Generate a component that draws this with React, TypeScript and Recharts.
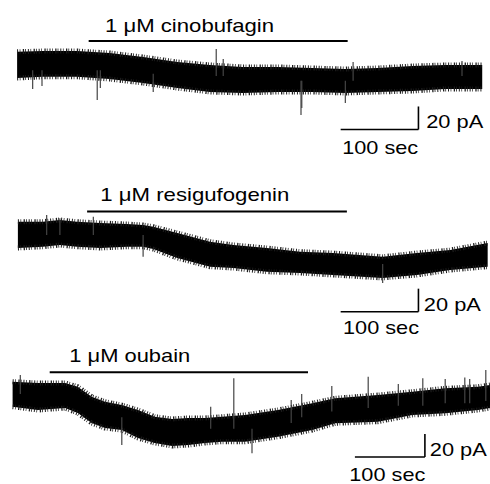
import React from 'react';
import { ComposedChart, Area, XAxis, YAxis, ReferenceLine, Scatter } from 'recharts';

// time in sec, current in pA (each trace relative to its own starting level)
const P1_BAND = [
  { t: 2, hi: 11.1, lo: -11.7 }, { t: 35, hi: 11.7, lo: -10.6 }, { t: 79, hi: 11.7, lo: -10.6 },
  { t: 121, hi: 10.0, lo: -12.6 }, { t: 164, hi: 6.5, lo: -16.0 }, { t: 208, hi: 2.2, lo: -20.4 },
  { t: 250, hi: -0.4, lo: -23.8 }, { t: 292, hi: -2.1, lo: -24.7 }, { t: 337, hi: -2.1, lo: -23.8 },
  { t: 381, hi: -3.0, lo: -23.8 }, { t: 424, hi: -3.9, lo: -24.7 }, { t: 466, hi: -3.0, lo: -23.8 },
  { t: 510, hi: -1.3, lo: -23.0 }, { t: 552, hi: -0.4, lo: -21.2 }, { t: 600, hi: -0.4, lo: -21.2 },
];
const P1_SPIKES = [
  { t: 22, base: -5, tip: -21.2 }, { t: 34, base: -5, tip: -18.6 }, { t: 105, base: -5, tip: -30.8 },
  { t: 109, base: -5, tip: -20.4 }, { t: 177, base: -8, tip: -23.8 }, { t: 367, base: -14, tip: -43.8 },
  { t: 368, base: -14, tip: -37.7 }, { t: 424, base: -14, tip: -33.4 },
  { t: 258, base: -10, tip: 13.5 }, { t: 267, base: -10, tip: 4.8 }, { t: 434, base: -14, tip: 2.2 },
  { t: 574, base: -10, tip: 3.1 },
];
const P2_BAND = [
  { t: 3, hi: 11.6, lo: -11.2 }, { t: 35, hi: 11.6, lo: -10.1 }, { t: 57, hi: 13.1, lo: -8.6 },
  { t: 79, hi: 11.6, lo: -10.1 }, { t: 109, hi: 10.5, lo: -11.2 }, { t: 143, hi: 9.6, lo: -10.1 },
  { t: 164, hi: 8.7, lo: -10.1 }, { t: 177, hi: 7.3, lo: -12.1 }, { t: 208, hi: 1.8, lo: -19.9 },
  { t: 250, hi: -5.7, lo: -27.4 }, { t: 280, hi: -8.6, lo: -28.6 }, { t: 323, hi: -11.2, lo: -31.8 },
  { t: 366, hi: -14.4, lo: -32.9 }, { t: 408, hi: -15.6, lo: -34.6 }, { t: 472, hi: -18.8, lo: -37.2 },
  { t: 516, hi: -15.6, lo: -34.6 }, { t: 559, hi: -13.0, lo: -30.3 }, { t: 607, hi: -6.9, lo: -27.4 },
];
const P2_SPIKES = [
  { t: 40, base: 0, tip: 17.4 }, { t: 57, base: 0, tip: 14.6 }, { t: 100, base: 0, tip: 15.9 },
  { t: 164, base: 0, tip: -18.8 }, { t: 472, base: -25, tip: -41.6 },
];
const P3_BAND = [
  { t: 0, hi: 10.8, lo: -10.9 }, { t: 36, hi: 9.6, lo: -13.8 }, { t: 75, hi: 9.6, lo: -12.1 },
  { t: 93, hi: 6.4, lo: -16.4 }, { t: 113, hi: -2.3, lo: -25.1 }, { t: 132, hi: -6.6, lo: -29.4 },
  { t: 156, hi: -9.5, lo: -31.2 }, { t: 179, hi: -13.8, lo: -38.1 }, { t: 203, hi: -19.6, lo: -42.4 },
  { t: 228, hi: -21.6, lo: -45.0 }, { t: 251, hi: -20.7, lo: -44.2 }, { t: 275, hi: -20.7, lo: -42.4 },
  { t: 299, hi: -19.6, lo: -41.3 }, { t: 332, hi: -18.1, lo: -41.3 }, { t: 379, hi: -13.8, lo: -37.0 },
  { t: 428, hi: -8.0, lo: -31.2 }, { t: 461, hi: -3.6, lo: -25.3 }, { t: 522, hi: -0.8, lo: -23.9 },
  { t: 571, hi: 2.1, lo: -18.1 }, { t: 618, hi: 5.0, lo: -16.7 }, { t: 665, hi: 6.4, lo: -13.8 },
  { t: 682, hi: 7.9, lo: -12.1 },
];
const P3_SPIKES = [
  { t: 11, base: 0, tip: 16.6 }, { t: 283, base: -30, tip: -11.0 }, { t: 316, base: -30, tip: 13.7 },
  { t: 398, base: -25, tip: -5.1 }, { t: 413, base: -20, tip: 0.1 }, { t: 456, base: -15, tip: 7.0 },
  { t: 508, base: -12, tip: 15.1 }, { t: 551, base: -10, tip: 8.8 }, { t: 586, base: -10, tip: 13.7 },
  { t: 618, base: -8, tip: 13.1 }, { t: 646, base: -8, tip: 14.4 }, { t: 653, base: -8, tip: 13.1 },
  { t: 676, base: -6, tip: 20.9 },
  { t: 156, base: -20, tip: -44.2 }, { t: 342, base: -30, tip: -51.4 },
];

// drug application bars
const P1_DRUG = [{ from: 94, to: 427, v: 20.4 }];
const P2_DRUG = [{ from: 92, to: 426, v: 20.5 }];
const P3_DRUG = [{ from: 53, to: 422, v: 18.9 }];

// scale bars: corner (t, v), lengths in sec and pA
const SCALE_SEC = 100;
const SCALE_PA = 20;
const P1_SCALE = [{ t: 518, v: -56.4 }];
const P2_SCALE = [{ t: 518, v: -66.5 }];
const P3_SCALE = [{ t: 589, v: -54.6 }];

// text labels
const P1_TEXT = [
  { t: 115, v: 28.2, text: '1 μM cinobufagin' },
  { t: 528, v: -55.3, text: '20 pA' },
  { t: 420, v: -77.6, text: '100 sec' },
];
const P2_TEXT = [
  { t: 109, v: 29.6, text: '1 μM resigufogenin' },
  { t: 525, v: -65.6, text: '20 pA' },
  { t: 421, v: -85.8, text: '100 sec' },
];
const P3_TEXT = [
  { t: 81, v: 28.1, text: '1 μM oubain' },
  { t: 596, v: -53.7, text: '20 pA' },
  { t: 481, v: -75.2, text: '100 sec' },
];

const TEXT_WIDTH: Record<string, number> = {
  '1 μM cinobufagin': 169,
  '1 μM resigufogenin': 189,
  '1 μM oubain': 121,
  '20 pA': 57,
  '100 sec': 76,
};

const renderText = (props: any) => {
  const { cx, cy, payload } = props;
  if (cx == null || cy == null || !payload) return <g />;
  return (
    <text
      x={cx}
      y={cy}
      fontFamily="'Liberation Sans', Arial, sans-serif"
      fontSize={19}
      fill="#000"
      textLength={TEXT_WIDTH[payload.text]}
      lengthAdjust="spacingAndGlyphs"
    >
      {payload.text}
    </text>
  );
};

const panels = [
  { id: 'p1', x: 'a', band: P1_BAND, spikes: P1_SPIKES, drug: P1_DRUG, scale: P1_SCALE, text: P1_TEXT },
  { id: 'p2', x: 'a', band: P2_BAND, spikes: P2_SPIKES, drug: P2_DRUG, scale: P2_SCALE, text: P2_TEXT },
  { id: 'p3', x: 'b', band: P3_BAND, spikes: P3_SPIKES, drug: P3_DRUG, scale: P3_SCALE, text: P3_TEXT },
];

export default function App() {
  return (
    <div style={{ position: 'absolute', left: 0, top: 0, width: 490, height: 484, background: '#fff' }}>
      <ComposedChart width={490} height={484} margin={{ top: 0, right: 0, bottom: 0, left: 0 }}>
        <XAxis xAxisId="a" dataKey="t" type="number" domain={[-20, 610]} hide allowDataOverflow />
        <XAxis xAxisId="b" dataKey="t" type="number" domain={[-18, 682]} hide allowDataOverflow />
        <YAxis yAxisId="p1" dataKey="v" type="number" domain={[-364, 56]} hide allowDataOverflow />
        <YAxis yAxisId="p2" dataKey="v" type="number" domain={[-216, 204]} hide allowDataOverflow />
        <YAxis yAxisId="p3" dataKey="v" type="number" domain={[-78, 342]} hide allowDataOverflow />
        {panels.flatMap((p) =>
          p.spikes.map((s, i) => (
            <ReferenceLine
              key={'spk-' + p.id + i}
              xAxisId={p.x}
              yAxisId={p.id}
              segment={[{ x: s.t, y: s.base }, { x: s.t, y: s.tip }]}
              stroke="#444"
              strokeWidth={1.2}
              ifOverflow="visible"
            />
          ))
        )}
        {panels.map((p) => (
          <Area
            key={'band-' + p.id}
            data={p.band}
            xAxisId={p.x}
            yAxisId={p.id}
            dataKey={(d: any) => [d.lo, d.hi]}
            type="linear"
            fill="#000"
            fillOpacity={1}
            stroke="#1c1c1c"
            strokeWidth={5}
            strokeDasharray="1 1.6 0.7 2.4 1.3 1.1 0.8 1.9"
            isAnimationActive={false}
            dot={false}
            activeDot={false}
          />
        ))}
        {panels.flatMap((p) =>
          p.drug.map((d, i) => (
            <ReferenceLine
              key={'drug-' + p.id + i}
              xAxisId={p.x}
              yAxisId={p.id}
              segment={[{ x: d.from, y: d.v }, { x: d.to, y: d.v }]}
              stroke="#000"
              strokeWidth={2}
              ifOverflow="visible"
            />
          ))
        )}
        {panels.flatMap((p) =>
          p.scale.flatMap((s, i) => [
            <ReferenceLine
              key={'sh-' + p.id + i}
              xAxisId={p.x}
              yAxisId={p.id}
              segment={[{ x: s.t - SCALE_SEC, y: s.v }, { x: s.t, y: s.v }]}
              stroke="#000"
              strokeWidth={1.6}
              ifOverflow="visible"
            />,
            <ReferenceLine
              key={'sv-' + p.id + i}
              xAxisId={p.x}
              yAxisId={p.id}
              segment={[{ x: s.t, y: s.v }, { x: s.t, y: s.v + SCALE_PA }]}
              stroke="#000"
              strokeWidth={1.6}
              ifOverflow="visible"
            />,
          ])
        )}
        {panels.map((p) => (
          <Scatter
            key={'txt-' + p.id}
            data={p.text}
            xAxisId={p.x}
            yAxisId={p.id}
            dataKey="v"
            shape={renderText}
            isAnimationActive={false}
          />
        ))}
      </ComposedChart>
    </div>
  );
}
